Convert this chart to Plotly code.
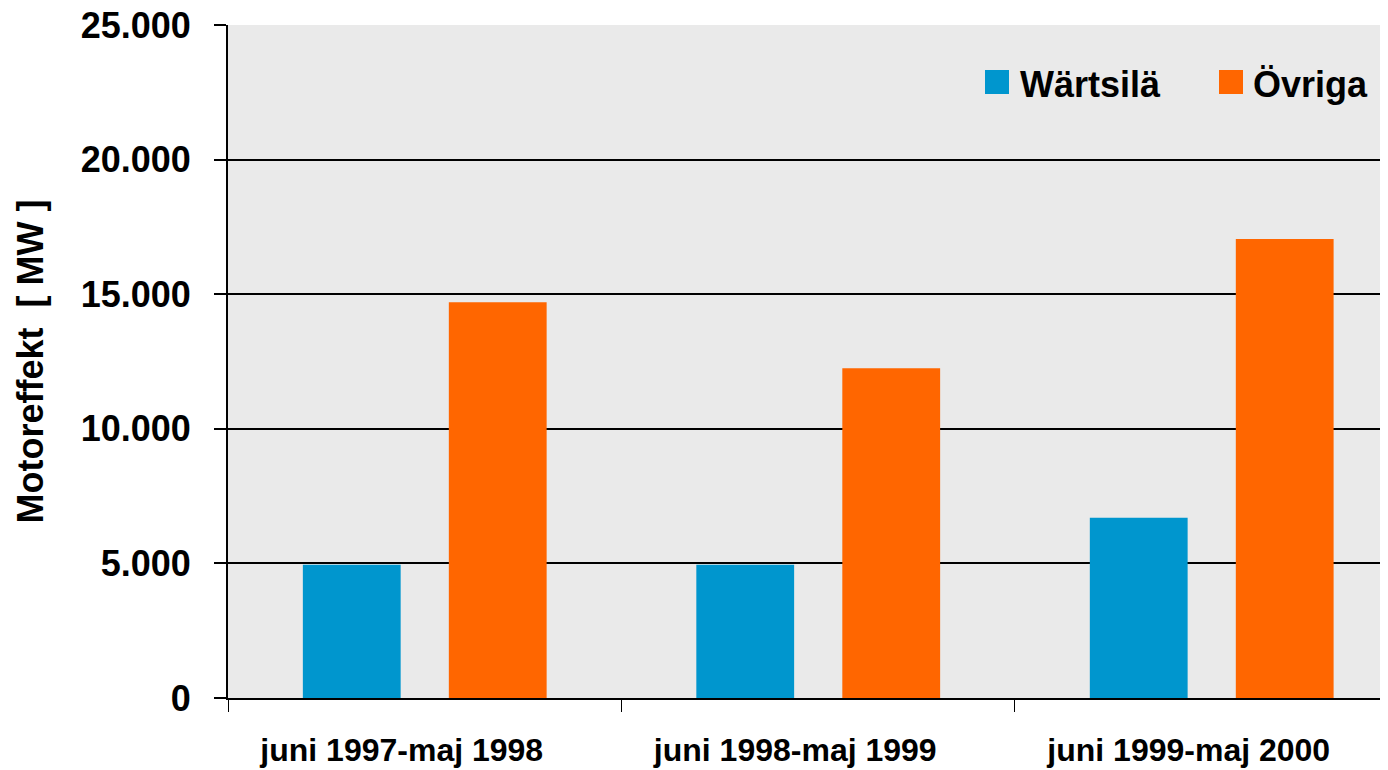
import plotly.graph_objects as go

categories = ["juni 1997-maj 1998", "juni 1998-maj 1999", "juni 1999-maj 2000"]
wartsila = [4950, 4950, 6700]
ovriga = [14700, 12250, 17050]
series_names = ["Wärtsilä", "Övriga"]
colors = ["#0096CE", "#FF6600"]
y_ticks = [0, 5000, 10000, 15000, 20000, 25000]
y_tick_labels = ["0", "5.000", "10.000", "15.000", "20.000", "25.000"]

FONT = "Liberation Sans, Arial, sans-serif"

# page body has an 8px margin, so the figure is sized/placed to compensate
W, H = 1380, 762
L, R, T, B = 220, 0, 17, 72
PW, PH = W - L - R, H - T - B  # plot area in px


def px_x(x):  # page x -> paper
    return (x - 8 - L) / PW


def px_y(y):  # page y -> paper
    return (T + PH - (y - 8)) / PH


fig = go.Figure()
for name, vals, col in zip(series_names, [wartsila, ovriga], colors):
    fig.add_trace(go.Bar(x=categories, y=vals, name=name, marker_color=col,
                         marker_line_width=0, showlegend=False))

# legend (manual, for larger swatches)
legend_sq_x = [985, 1219]
legend_tx_x = [1020, 1253]
shapes, annos = [], []
for name, col, sx, tx in zip(series_names, colors, legend_sq_x, legend_tx_x):
    shapes.append(dict(type="rect", xref="paper", yref="paper",
                       x0=px_x(sx), x1=px_x(sx + 24), y0=px_y(94), y1=px_y(70),
                       fillcolor=col, line_width=0, layer="above"))
    annos.append(dict(text=name, xref="paper", yref="paper", x=px_x(tx - 2), y=px_y(84),
                      xanchor="left", yanchor="middle", showarrow=False,
                      font=dict(family=FONT, size=36, color="black", weight="bold")))

fig.update_layout(
    width=W, height=H,
    margin=dict(l=L, r=R, t=T, b=B),
    paper_bgcolor="white",
    plot_bgcolor="#EAEAEA",
    barmode="group",
    bargap=0.258,
    bargroupgap=0.33,
    showlegend=False,
    font=dict(family=FONT, color="black"),
    shapes=shapes,
    annotations=annos,
)
fig.update_xaxes(
    type="category", range=[-0.5, 2.448], automargin=False,
    showline=True, linecolor="black", linewidth=2,
    ticks="outside", tickson="boundaries", ticklen=12, tickcolor="black", tickwidth=1,
    showgrid=False,
    ticklabelstandoff=23, ticklabelshift=-23, ticklabeloverflow="allow",
    tickfont=dict(family=FONT, size=32, color="black", weight="bold"),
)
fig.update_yaxes(
    range=[0, 25000], tickvals=y_ticks, ticktext=y_tick_labels, automargin=False,
    showline=True, linecolor="black", linewidth=2,
    ticks="outside", ticklen=12, tickcolor="black", tickwidth=2,
    showgrid=True, gridcolor="black", gridwidth=1.5,
    zeroline=False,
    ticklabelstandoff=16, ticklabeloverflow="allow",
    tickfont=dict(family=FONT, size=36, color="black", weight="bold"),
    title=dict(text="Motoreffekt  [ MW ]", standoff=26,
               font=dict(family=FONT, size=36, color="black", weight="bold")),
)

fig.write_html("out.html")
